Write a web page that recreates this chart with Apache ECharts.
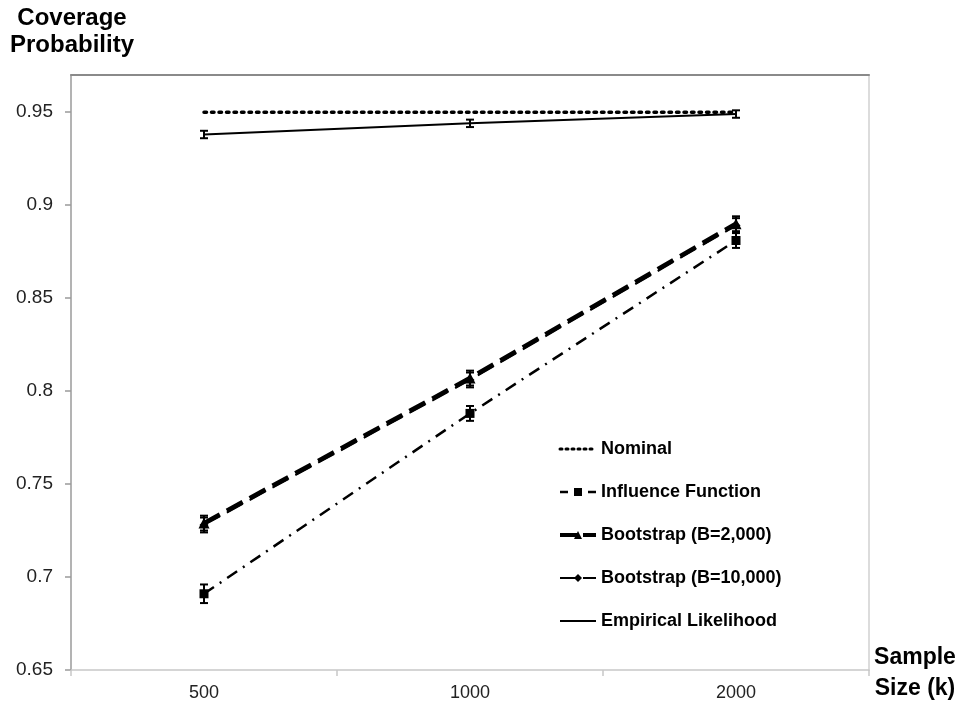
<!DOCTYPE html>
<html>
<head>
<meta charset="utf-8">
<script src="https://cdn.jsdelivr.net/npm/echarts@6/dist/echarts.min.js"></script>
<style>
html,body{margin:0;padding:0;background:#fff;}
#chart{width:961px;height:710px;}
</style>
</head>
<body>
<div id="chart"></div>
<script>
var categories = ['500', '1000', '2000'];
var yTicks = [0.65, 0.7, 0.75, 0.8, 0.85, 0.9, 0.95];
var nominal = [0.95, 0.95, 0.95];
var influence = [0.691, 0.788, 0.881];
var boot2000 = [0.729, 0.807, 0.890];
var boot10000 = [0.728, 0.806, 0.889];
var empirical = [0.938, 0.944, 0.949];
var influenceErr = [0.005, 0.004, 0.004];
var boot2000Err = [0.004, 0.004, 0.004];
var boot10000Err = [0.004, 0.004, 0.004];
var empiricalErr = [0.002, 0.002, 0.002];

function errData(vals, errs) {
  return vals.map(function (v, i) { return [i, v - errs[i], v + errs[i]]; });
}

function renderErr(params, api) {
  var x = api.value(0), lo = api.value(1), hi = api.value(2);
  var a = api.coord([x, lo]), b = api.coord([x, hi]);
  var w = 4;
  var st = { stroke: '#000', lineWidth: 2 };
  return {
    type: 'group',
    children: [
      { type: 'line', shape: { x1: a[0], y1: a[1], x2: b[0], y2: b[1] }, style: st },
      { type: 'line', shape: { x1: a[0] - w, y1: a[1], x2: a[0] + w, y2: a[1] }, style: st },
      { type: 'line', shape: { x1: b[0] - w, y1: b[1], x2: b[0] + w, y2: b[1] }, style: st }
    ]
  };
}

function errSeries(vals, errs) {
  return {
    type: 'custom', renderItem: renderErr, data: errData(vals, errs),
    encode: { x: 0, y: [1, 2] }, z: 5, silent: true
  };
}

var chart = echarts.init(document.getElementById('chart'), null, { renderer: 'canvas' });
var font = '"Liberation Sans", Arial, Helvetica, sans-serif';
var hidden = { color: 'rgba(0,0,0,0)', borderWidth: 0 };

chart.setOption({
  animation: false,
  backgroundColor: '#fff',
  textStyle: { fontFamily: font },
  grid: { left: 71, right: 92, top: 75, bottom: 40, containLabel: false },
  legend: {
    orient: 'vertical', left: 553, top: 435, itemGap: 25,
    itemWidth: 36, itemHeight: 10,
    data: [
      { name: 'Nominal', itemStyle: hidden, lineStyle: { width: 3, type: [2, 4], cap: 'round' } },
      { name: 'Influence Function', lineStyle: { width: 2.5, type: [8, 6] } },
      { name: 'Bootstrap (B=2,000)', lineStyle: { width: 4, type: [18, 5] } },
      { name: 'Bootstrap (B=10,000)', lineStyle: { width: 2, type: [18, 5] } },
      { name: 'Empirical Likelihood', itemStyle: hidden, lineStyle: { width: 2, type: 'solid' } }
    ],
    textStyle: { fontFamily: font, fontWeight: 'bold', fontSize: 18, color: '#000' }
  },
  xAxis: [{
    type: 'category', data: categories, boundaryGap: true,
    axisLine: { lineStyle: { color: '#c8c8c8', width: 1.5 } },
    axisTick: { show: true, length: 6, lineStyle: { color: '#c8c8c8', width: 1.5 } },
    axisLabel: { fontSize: 18, color: '#222', margin: 14, fontFamily: font },
    splitLine: { show: false }
  }, {
    type: 'category', data: categories, position: 'top', boundaryGap: true,
    axisLine: { lineStyle: { color: '#8a8a8a', width: 2 } },
    axisTick: { show: false }, axisLabel: { show: false }, splitLine: { show: false }
  }],
  yAxis: [{
    type: 'value', min: 0.65, max: 0.97, interval: 0.05,
    axisLine: { show: true, lineStyle: { color: '#9a9a9a', width: 1.5 } },
    axisTick: { show: true, length: 6, customValues: yTicks, lineStyle: { color: '#9a9a9a', width: 1.5 } },
    axisLabel: { fontSize: 19, color: '#222', margin: 18, fontFamily: font, customValues: yTicks },
    splitLine: { show: false }
  }, {
    type: 'value', min: 0.65, max: 0.97, position: 'right',
    axisLine: { show: true, lineStyle: { color: '#dcdcdc', width: 2 } },
    axisTick: { show: false }, axisLabel: { show: false }, splitLine: { show: false }
  }],
  graphic: [
    {
      type: 'text', x: 72, y: 5,
      style: {
        text: 'Coverage\nProbability', fontFamily: font, fontWeight: 'bold', fontSize: 24,
        fill: '#000', lineHeight: 27, textAlign: 'center'
      }
    },
    {
      type: 'text', x: 915, y: 642,
      style: {
        text: 'Sample\nSize (k)', fontFamily: font, fontWeight: 'bold', fontSize: 23,
        fill: '#000', lineHeight: 31, textAlign: 'center'
      }
    }
  ],
  series: [
    {
      name: 'Nominal', type: 'line', data: nominal, symbol: 'none',
      lineStyle: { color: '#000', width: 3.5, type: [2.5, 5], cap: 'round' },
      itemStyle: { color: '#000' }, z: 3
    },
    {
      name: 'Influence Function', type: 'line', data: influence, symbol: 'rect', symbolSize: 9,
      lineStyle: { color: '#000', width: 2.5, type: [12, 7, 2, 7] },
      itemStyle: { color: '#000' }, z: 3
    },
    {
      name: 'Bootstrap (B=2,000)', type: 'line', data: boot2000, symbol: 'triangle', symbolSize: 11,
      lineStyle: { color: '#000', width: 4.5, type: [18, 8] },
      itemStyle: { color: '#000' }, z: 4
    },
    {
      name: 'Bootstrap (B=10,000)', type: 'line', data: boot10000, symbol: 'diamond', symbolSize: 9,
      lineStyle: { color: '#000', width: 2, type: [18, 8] },
      itemStyle: { color: '#000' }, z: 3
    },
    {
      name: 'Empirical Likelihood', type: 'line', data: empirical, symbol: 'none',
      lineStyle: { color: '#000', width: 2 },
      itemStyle: { color: '#000' }, z: 3
    },
    errSeries(influence, influenceErr),
    errSeries(boot2000, boot2000Err),
    errSeries(boot10000, boot10000Err),
    errSeries(empirical, empiricalErr)
  ]
});
</script>
</body>
</html>
